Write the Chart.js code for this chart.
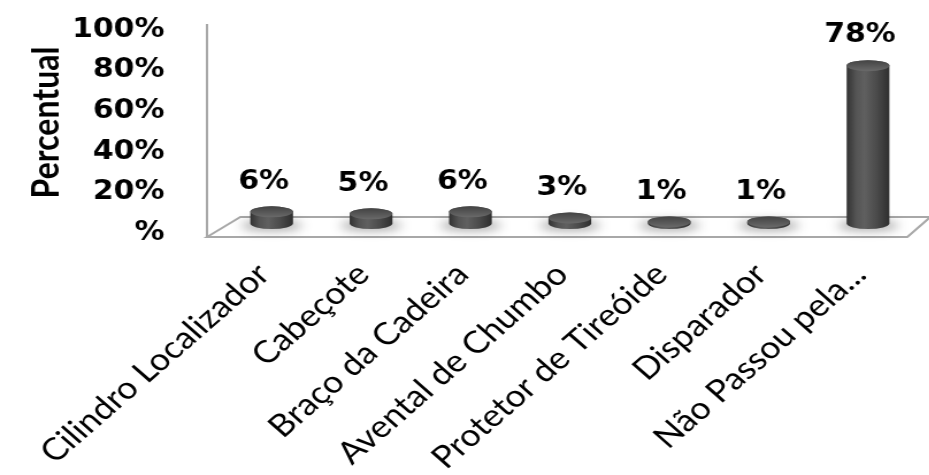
<!DOCTYPE html>
<html>
<head>
<meta charset="utf-8">
<script src="https://cdn.jsdelivr.net/npm/chart.js@4.4.1/dist/chart.umd.min.js"></script>
<style>
  html, body { margin: 0; padding: 0; background: #fff; overflow: hidden; }
  /* the whole chart is drawn a bit narrower and widened on screen */
  #wrap { width: 808px; height: 475px; transform: scaleX(1.15); transform-origin: 0 0; }
</style>
</head>
<body>
<div id="wrap"><canvas id="partsChart"></canvas></div>
<script>
const categories = [
    "Cilindro Localizador",
    "Cabeçote",
    "Braço da Cadeira",
    "Avental de Chumbo",
    "Protetor de Tireóide",
    "Disparador",
    "Não Passou pela...",
];
const percentValues = [6, 5, 6, 3, 1, 1, 78];
const yTickValues = [0, 20, 40, 60, 80, 100];
const yTickLabels = ["%", "20%", "40%", "60%", "80%", "100%"];

const numberFont = "'DejaVu Sans', Verdana, sans-serif";
const labelFont = "Lato, 'Open Sans', sans-serif";

// floor plane and left wall edge
const floorPlugin = {
    id: "floor",
    beforeDatasetsDraw(chart) {
        const ctx = chart.ctx;
        const area = chart.chartArea;
        const y = chart.scales.y;
        const zeroY = y.getPixelForValue(0);
        const backY = zeroY - 7;
        const frontY = zeroY + 13;

        ctx.save();
        ctx.strokeStyle = "#a8a8a8";
        ctx.lineWidth = 2;
        ctx.beginPath();
        ctx.moveTo(area.left - 13, frontY);
        ctx.lineTo(area.left + 16, backY);
        ctx.lineTo(area.right + 11, backY);
        ctx.lineTo(area.right - 9, frontY);
        ctx.closePath();
        ctx.fillStyle = "#ffffff";
        ctx.fill();
        ctx.stroke();

        ctx.beginPath();
        ctx.moveTo(area.left - 13, frontY);
        ctx.lineTo(area.left - 13, y.getPixelForValue(100) + 3);
        ctx.stroke();

        // soft shadows on the floor
        const meta = chart.getDatasetMeta(0);
        ctx.filter = "blur(5px)";
        ctx.fillStyle = "rgba(0,0,0,0.3)";
        meta.data.forEach(function (el) {
            ctx.beginPath();
            ctx.ellipse(el.x, el.base + 2, el.width * 0.72, 6, 0, 0, Math.PI * 2);
            ctx.fill();
        });
        ctx.restore();
    },
};

// cylinders and value labels
const cylinderPlugin = {
    id: "cylinders",
    afterDatasetsDraw(chart) {
        const ctx = chart.ctx;
        const meta = chart.getDatasetMeta(0);
        const ry = 5.5;

        ctx.save();
        meta.data.forEach(function (el, i) {
            const rx = el.width / 2;
            const top = el.y;
            const base = el.base;

            const body = ctx.createLinearGradient(el.x - rx, 0, el.x + rx, 0);
            body.addColorStop(0, "#323232");
            body.addColorStop(0.22, "#545454");
            body.addColorStop(0.42, "#606060");
            body.addColorStop(0.7, "#4b4b4b");
            body.addColorStop(1, "#2e2e2e");

            ctx.beginPath();
            ctx.moveTo(el.x - rx, top);
            ctx.lineTo(el.x - rx, base);
            ctx.ellipse(el.x, base, rx, ry, 0, Math.PI, 0, true);
            ctx.lineTo(el.x + rx, top);
            ctx.ellipse(el.x, top, rx, ry, 0, 0, Math.PI, true);
            ctx.closePath();
            ctx.fillStyle = body;
            ctx.fill();

            const cap = ctx.createLinearGradient(0, top - ry, 0, top + ry);
            cap.addColorStop(0, "#434343");
            cap.addColorStop(0.6, "#5a5a5a");
            cap.addColorStop(1, "#6a6a6a");
            ctx.beginPath();
            ctx.ellipse(el.x, top, rx, ry, 0, 0, Math.PI * 2);
            ctx.fillStyle = cap;
            ctx.fill();

            ctx.fillStyle = "#000000";
            ctx.font = "bold 26px " + numberFont;
            ctx.textAlign = "center";
            ctx.textBaseline = "middle";
            ctx.fillText(percentValues[i] + "%", el.x - 7, top - 30);
        });
        ctx.restore();
    },
};

const ctx = document.getElementById("partsChart").getContext("2d");

new Chart(ctx, {
    type: "bar",
    data: {
        labels: categories,
        datasets: [
            {
                label: "Percentual",
                data: percentValues,
                backgroundColor: "rgba(0,0,0,0)",
                categoryPercentage: 1,
                barPercentage: 0.43,
            },
        ],
    },
    options: {
        responsive: true,
        maintainAspectRatio: false,
        animation: false,
        layout: {
            padding: { top: 21, right: 10, bottom: 0, left: 0 },
        },
        plugins: {
            legend: { display: false },
            tooltip: { enabled: false },
        },
        scales: {
            x: {
                grid: { display: false },
                border: { display: false },
                ticks: {
                    color: "#000",
                    font: { family: labelFont, size: 31 },
                    minRotation: 45,
                    maxRotation: 45,
                    padding: 24,
                    labelOffset: -7,
                    autoSkip: false,
                },
                afterFit(scale) {
                    scale.height = 251;
                },
            },
            y: {
                min: 0,
                max: 100,
                // tick marks kept invisible, they only push the labels left
                grid: {
                    color: "rgba(0,0,0,0)",
                    drawOnChartArea: false,
                    drawTicks: true,
                    tickLength: 48,
                },
                border: { display: false },
                afterBuildTicks(scale) {
                    scale.ticks = yTickValues.map(function (v) {
                        return { value: v };
                    });
                },
                afterFit(scale) {
                    scale.width = 193;
                },
                ticks: {
                    color: "#000",
                    font: { family: numberFont, size: 26, weight: "bold" },
                    padding: 2,
                    labelOffset: 9,
                    autoSkip: false,
                    callback: function (value) {
                        return yTickLabels[yTickValues.indexOf(value)];
                    },
                },
                title: {
                    display: true,
                    text: "Percentual",
                    color: "#000",
                    font: { family: labelFont, size: 32, weight: "bold" },
                    padding: { top: 21, bottom: 0 },
                },
            },
        },
    },
    plugins: [floorPlugin, cylinderPlugin],
});
</script>
</body>
</html>
